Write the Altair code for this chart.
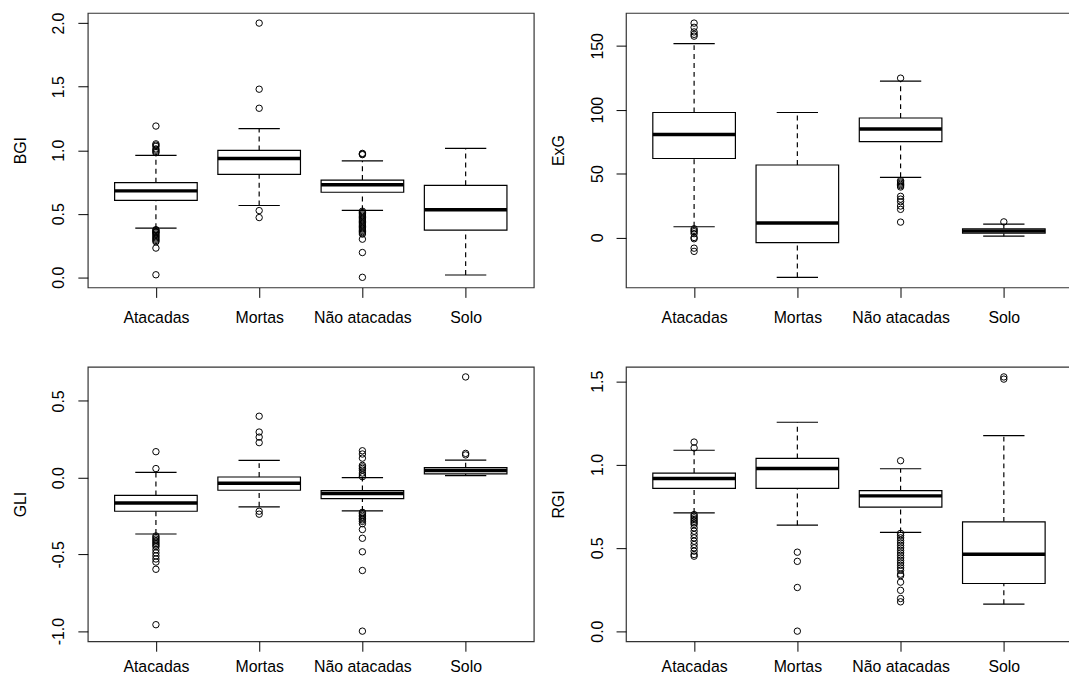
import json
import altair as alt
import pandas as pd

cats = ["Atacadas", "Mortas", "Não atacadas", "Solo"]

# ---------------- BGI ----------------
bgi_q1 = [0.605, 0.810, 0.669, 0.371]
bgi_med = [0.680, 0.934, 0.729, 0.532]
bgi_q3 = [0.745, 0.998, 0.765, 0.724]
bgi_lo = [0.387, 0.565, 0.527, 0.018]
bgi_hi = [0.960, 1.170, 0.916, 1.014]
bgi_out = [
    [1.19, 1.05, 1.04, 1.03, 1.01, 1.00, 0.99, 0.98, 0.375, 0.37, 0.36, 0.355, 0.35,
     0.34, 0.33, 0.32, 0.31, 0.30, 0.29, 0.28, 0.23, 0.02],
    [2.00, 1.48, 1.33, 0.525, 0.47],
    [0.975, 0.97, 0.965, 0.52, 0.51, 0.50, 0.49, 0.48, 0.47, 0.46, 0.45, 0.44, 0.43,
     0.42, 0.41, 0.40, 0.39, 0.38, 0.37, 0.36, 0.35, 0.34, 0.30, 0.195, 0.0],
    [],
]
bgi_ticks = [0.0, 0.5, 1.0, 1.5, 2.0]

# ---------------- ExG ----------------
exg_q1 = [61.8, -4.1, 75.0, 3.3]
exg_med = [80.6, 11.4, 84.9, 5.0]
exg_q3 = [97.8, 56.7, 93.5, 6.8]
exg_lo = [8.4, -31.2, 47.1, 1.0]
exg_hi = [151.8, 97.8, 122.4, 10.4]
exg_out = [
    [167.8, 164.5, 160.9, 159.0, 157.6, 6.8, 5.5, 4.5, 3.0, 0.0, -1.0, -8.4, -10.9],
    [],
    [124.7, 44.5, 43.5, 42.5, 41.5, 40.5, 39.5, 32.2, 30.0, 28.0, 24.6, 22.0, 12.0],
    [12.2],
]
exg_ticks = [0, 50, 100, 150]

# ---------------- GLI ----------------
gli_q1 = [-0.219, -0.082, -0.137, 0.025]
gli_med = [-0.165, -0.036, -0.103, 0.046]
gli_q3 = [-0.116, 0.004, -0.084, 0.065]
gli_lo = [-0.367, -0.190, -0.217, 0.013]
gli_hi = [0.034, 0.112, 0.000, 0.114]
gli_out = [
    [0.169, 0.059, -0.38, -0.39, -0.40, -0.41, -0.42, -0.43, -0.44, -0.45, -0.47,
     -0.49, -0.51, -0.53, -0.55, -0.597, -0.958],
    [0.40, 0.297, 0.264, 0.228, -0.219, -0.238],
    [0.175, 0.154, 0.127, 0.08, 0.07, 0.06, 0.049, 0.03, 0.017, 0.006, -0.226, -0.235,
     -0.245, -0.255, -0.265, -0.275, -0.285, -0.30, -0.338, -0.395, -0.483, -0.605, -1.0],
    [0.656, 0.158, 0.148],
]
gli_ticks = [-1.0, -0.5, 0.0, 0.5]

# ---------------- RGI ----------------
rgi_q1 = [0.857, 0.857, 0.744, 0.286]
rgi_med = [0.916, 0.977, 0.812, 0.462]
rgi_q3 = [0.949, 1.037, 0.843, 0.656]
rgi_lo = [0.710, 0.636, 0.593, 0.162]
rgi_hi = [1.086, 1.254, 0.975, 1.174]
rgi_out = [
    [1.135, 1.10, 0.70, 0.69, 0.68, 0.67, 0.66, 0.65, 0.64, 0.62, 0.60, 0.58, 0.56,
     0.54, 0.52, 0.50, 0.48, 0.46, 0.45],
    [0.474, 0.419, 0.262, 0.0],
    [1.023, 0.587, 0.575, 0.56, 0.545, 0.53, 0.515, 0.50, 0.485, 0.47, 0.455, 0.44,
     0.425, 0.41, 0.395, 0.38, 0.365, 0.342, 0.333, 0.294, 0.245, 0.196, 0.176],
    [1.526, 1.513],
]
rgi_ticks = [0.0, 0.5, 1.0, 1.5]

FONT = "Liberation Sans"
W = 450


def panel(title, q1, med, q3, lo, hi, outs, ticks, fmt, height, xlabpad):
    pos = list(range(1, len(cats) + 1))
    stats = pd.DataFrame({"pos": pos, "cat": cats, "q1": q1, "med": med,
                          "q3": q3, "lo": lo, "hi": hi})
    out_df = pd.DataFrame([{"pos": i + 1, "v": v}
                           for i, lst in enumerate(outs) for v in lst])
    allv = lo + hi + [v for lst in outs for v in lst]
    vmin, vmax = min(allv), max(allv)
    r = vmax - vmin
    ydom = [vmin - 0.04 * r, vmax + 0.04 * r]

    xs = alt.Scale(domain=[0.34, 4.66], nice=False, zero=False)
    ys = alt.Scale(domain=ydom, nice=False, zero=False)
    xaxis = alt.Axis(
        values=pos,
        labelExpr=json.dumps(cats, ensure_ascii=False) + "[datum.value - 1]",
        title=None, grid=False, domain=False, tickSize=10, tickColor="black",
        labelPadding=xlabpad, labelBaseline="alphabetic", labelAngle=0,
        labelFlush=False, labelOverlap=False,
    )
    yaxis = alt.Axis(
        values=ticks,
        labelExpr="(datum.value < 0 ? '-' : '') + format(abs(datum.value), '%s')" % fmt,
        title=title, grid=False, domain=False, tickSize=10, tickColor="black",
        labelAngle=270, labelAlign="center", labelBaseline="alphabetic",
        labelPadding=14, labelOverlap=False, labelFlush=False,
        titleAngle=270, titleBaseline="alphabetic", titleAlign="center",
        titlePadding=23, minExtent=40, maxExtent=40,
    )

    def X(f):
        return alt.X(f, type="quantitative", scale=xs, axis=xaxis)

    def Y(f):
        return alt.Y(f, type="quantitative", scale=ys, axis=yaxis)

    base = alt.Chart(stats).transform_calculate(
        bl="datum.pos - 0.4", br="datum.pos + 0.4",
        sl="datum.pos - 0.2", sr="datum.pos + 0.2",
    )
    dash = dict(color="black", strokeWidth=1.2, strokeDash=[5, 4])
    w_up = base.mark_rule(**dash).encode(x=X("pos"), y=Y("q3"), y2="hi")
    w_lo = base.mark_rule(**dash).encode(x=X("pos"), y=Y("lo"), y2="q1")
    s_hi = base.mark_rule(color="black", strokeWidth=1.2).encode(
        x=X("sl"), x2="sr", y=Y("hi"))
    s_lo = base.mark_rule(color="black", strokeWidth=1.2).encode(
        x=X("sl"), x2="sr", y=Y("lo"))
    box = base.mark_rect(fill="white", stroke="black", strokeWidth=1.2).encode(
        x=X("bl"), x2="br", y=Y("q1"), y2="q3")
    medl = base.mark_rule(color="black", strokeWidth=3.5, strokeCap="butt").encode(
        x=X("bl"), x2="br", y=Y("med"))
    pts = alt.Chart(out_df).mark_point(
        shape="circle", filled=False, size=42, color="black",
        strokeWidth=1, opacity=1,
    ).encode(x=X("pos"), y=Y("v"))
    return alt.layer(w_up, w_lo, s_hi, s_lo, box, medl, pts).properties(
        width=W, height=height)


tl = panel("BGI", bgi_q1, bgi_med, bgi_q3, bgi_lo, bgi_hi, bgi_out, bgi_ticks, ".1f", 277, 25)
tr = panel("ExG", exg_q1, exg_med, exg_q3, exg_lo, exg_hi, exg_out, exg_ticks, "d", 277, 25)
bl = panel("GLI", gli_q1, gli_med, gli_q3, gli_lo, gli_hi, gli_out, gli_ticks, ".1f", 277, 20)
br = panel("RGI", rgi_q1, rgi_med, rgi_q3, rgi_lo, rgi_hi, rgi_out, rgi_ticks, ".1f", 277, 20)

# The right-hand panels run past the page edge in the original figure; the
# negative right padding crops the chart at the window edge the same way.
chart = alt.vconcat(
    alt.hconcat(tl, tr, spacing=15),
    alt.hconcat(bl, br, spacing=15),
    spacing=40,
).properties(
    padding={"left": 3.5, "top": 0, "right": -4, "bottom": -4},
    background="white",
).configure_view(
    stroke="#333333", strokeWidth=1.2,
).configure_axis(
    labelFont=FONT, titleFont=FONT, labelFontSize=16, titleFontSize=16,
    titleFontWeight="normal", labelColor="black", titleColor="black",
)

chart.save("out.html", embed_options={"renderer": "svg", "actions": False})
